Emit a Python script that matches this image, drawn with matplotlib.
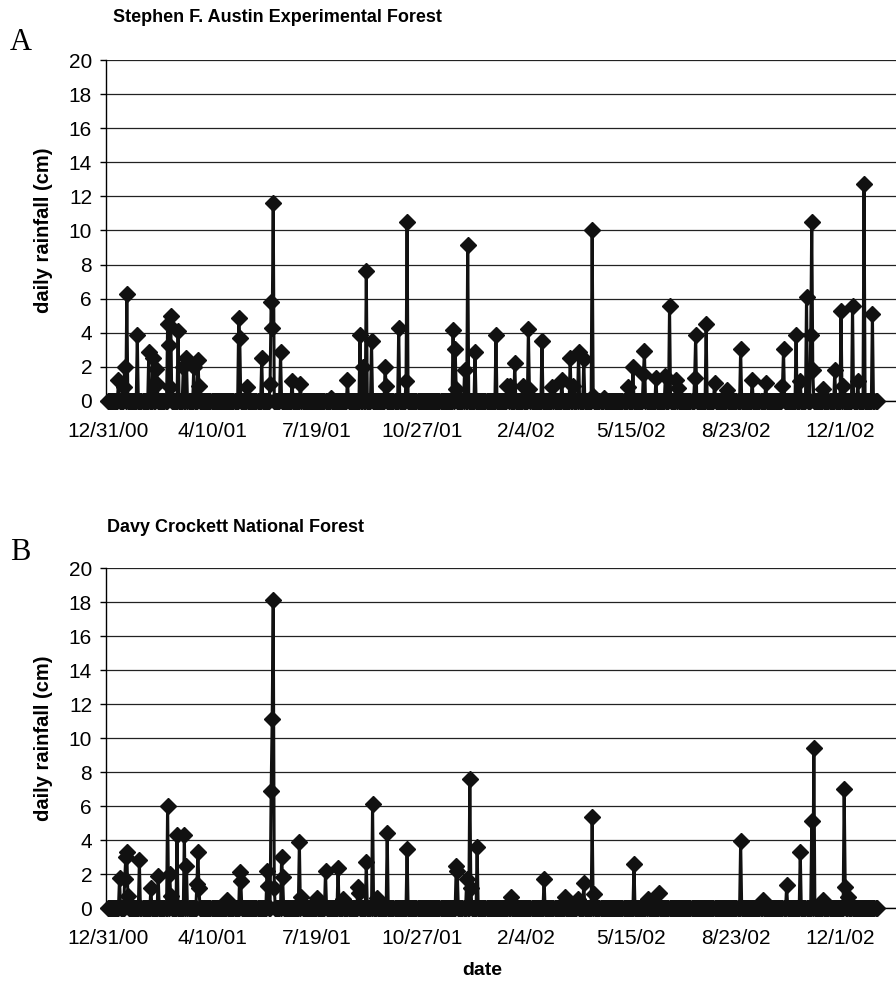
import numpy as np
import matplotlib
matplotlib.use("Agg")
import matplotlib.pyplot as plt

plt.rcParams['font.family'] = ['Liberation Sans', 'DejaVu Sans']

# days counted from 12/31/00, rainfall in cm (days not listed had no rain)
n_days = 736
tick_days = [0, 100, 200, 300, 400, 500, 600, 700]
tick_labels = ['12/31/00', '4/10/01', '7/19/01', '10/27/01',
               '2/4/02', '5/15/02', '8/23/02', '12/1/02']

# Stephen F. Austin Experimental Forest
sfa_day = [10, 15, 16, 18, 28, 39, 43, 46, 47, 57, 58, 59, 60, 67, 72, 75, 82, 86, 87,
           125, 126, 133, 147, 155, 156, 157, 158, 165, 176, 184, 213, 229, 241, 244,
           247, 252, 265, 266, 278, 285, 286, 330, 332, 333, 341, 344, 351, 371, 382,
           384, 389, 397, 402, 403, 415, 425, 434, 442, 445, 450, 455, 463, 464, 474,
           497, 502, 512, 513, 524, 533, 537, 543, 545, 561, 562, 572, 580, 592, 605,
           616, 629, 645, 646, 658, 662, 668, 672, 673, 674, 684, 695, 701, 703, 712,
           717, 723, 731]
sfa_cm = [1.25, 0.8, 2.0, 6.3, 3.85, 2.9, 2.5, 1.9, 1.0, 4.5, 3.3, 0.8, 5.0, 4.1, 2.0, 2.5,
          2.0, 2.4, 0.9,
          4.85, 3.7, 0.8, 2.5, 1.0, 5.8, 4.3, 11.6, 2.85, 1.2, 1.0, 0.2, 1.25, 3.85, 2.0,
          7.6, 3.5, 2.0, 0.9, 4.3, 1.2, 10.5, 4.15, 3.05, 0.7, 1.8, 9.15, 2.85, 3.85, 0.9,
          0.9, 2.25, 0.9, 4.2, 0.7, 3.5, 0.8, 1.25, 2.5, 0.9, 2.85, 2.45, 10.0, 0.3, 0.15,
          0.8, 2.0, 1.6, 2.95, 1.35, 1.45, 5.55, 1.25, 0.75, 1.35, 3.85, 4.5, 1.05, 0.65, 3.05,
          1.25, 1.05, 0.9, 3.05, 3.85, 1.2, 6.1, 3.85, 10.5, 1.8, 0.7, 1.8, 5.3, 0.9, 5.55,
          1.15, 12.7, 5.1]

# Davy Crockett National Forest
dc_day = [11, 16, 17, 18, 19, 30, 41, 48, 57, 59, 60, 66, 73, 75, 85, 86, 87, 114, 126,
          127, 152, 153, 156, 157, 158, 159, 166, 167, 183, 185, 200, 208, 220, 225, 239,
          240, 247, 253, 257, 267, 286, 333, 334, 343, 346, 347, 353, 385, 417, 437, 449,
          455, 463, 465, 503, 516, 527, 605, 626, 649, 662, 673, 675, 684, 704, 705, 708]
dc_cm = [1.75, 1.7, 3.0, 3.3, 0.7, 2.8, 1.15, 1.9, 6.0, 2.0, 0.7, 4.3, 4.3, 2.5, 1.4, 3.3,
         1.15, 0.45, 2.1,
         1.6, 2.15, 1.3, 6.9, 11.1, 18.1, 1.2, 3.0, 1.8, 3.9, 0.65, 0.6, 2.15, 2.35, 0.55, 1.25,
         0.9, 2.7, 6.1, 0.6, 4.4, 3.5, 2.5, 2.2, 1.7, 7.6, 1.2, 3.6, 0.65, 1.7, 0.65, 0.55,
         1.5, 5.35, 0.85, 2.6, 0.55, 0.9, 3.95, 0.45, 1.35, 3.3, 5.1, 9.4, 0.45, 7.0, 1.25, 0.65]

panels = [
    ('A', 'Stephen F. Austin Experimental Forest', sfa_day, sfa_cm),
    ('B', 'Davy Crockett National Forest', dc_day, dc_cm),
]

W, H = 896, 988
fig = plt.figure(figsize=(W / 100, H / 100), dpi=100)

# pixel geometry of each panel: (y of 0, y of 20, title y, letter y)
geom = [(401, 60, 18, 42), (908, 568, 527, 552)]
title_x = [113, 107]
x_left, x_px0, px_per_day = 106, 108, 1.0457

for (letter, title, days, cm), (y0, y20, ty, ly), tx in zip(panels, geom, title_x):
    ax = fig.add_axes([x_left / W, (H - y0) / H, 1 - x_left / W, (y0 - y20) / H])
    rain = np.zeros(n_days)
    rain[days] = cm
    ax.plot(np.arange(n_days), rain, color='#111111', lw=2.2,
            marker='D', ms=8, clip_on=False, zorder=3)

    ax.set_ylim(0, 20)
    ax.set_yticks(range(0, 21, 2))
    ax.set_xlim(-(x_px0 - x_left) / px_per_day, (W - x_px0) / px_per_day)
    ax.set_xticks(tick_days)
    ax.set_xticklabels(tick_labels)
    ax.grid(axis='y', color='#222222', lw=0.9)
    ax.set_axisbelow(True)
    for s in ['top', 'right']:
        ax.spines[s].set_visible(False)
    ax.spines['left'].set_linewidth(1.0)
    ax.spines['bottom'].set_linewidth(1.0)
    ax.tick_params(axis='y', labelsize=15, length=4, width=1, pad=6)
    ax.tick_params(axis='x', labelsize=15, length=4, width=1, pad=11)
    ax.set_ylabel('daily rainfall (cm)', fontsize=14.5, fontweight='bold', labelpad=11)

    fig.text(tx / W, 1 - ty / H, title, fontsize=13, fontweight='bold',
             ha='left', va='center')
    fig.text(10 / W, 1 - ly / H, letter, fontsize=22, family='Liberation Serif',
             ha='left', va='center')

fig.text(482 / W, 1 - 970 / H, 'date', fontsize=14, fontweight='bold',
         ha='center', va='center')

fig.savefig('out.png', dpi=100)
